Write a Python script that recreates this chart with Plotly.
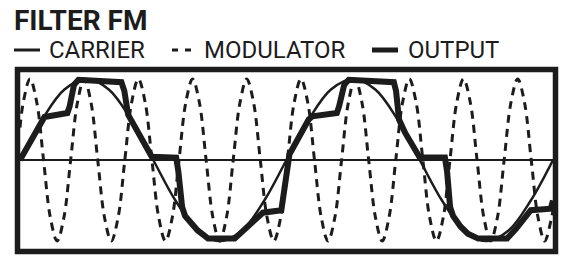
import plotly.graph_objects as go

# ---- data (x in carrier degrees, y normalised amplitude) ----
car_x = [0, 30, 60, 90, 120, 150, 180, 210, 240, 270, 300, 330, 360,
         390, 420, 450, 480, 510, 540, 570, 600, 630, 660, 690, 720]
car_y = [0, 0.5, 0.87, 1, 0.87, 0.5, 0, -0.5, -0.87, -1, -0.87, -0.5, 0,
         0.5, 0.87, 1, 0.87, 0.5, 0, -0.5, -0.87, -1, -0.87, -0.5, 0]

mod_x = [0, 4.4, 13.5, 22.7, 31.8, 41.0, 50.1, 59.3, 68.4, 77.6, 86.7, 95.9, 105.0,
         114.2, 123.3, 132.5, 141.6, 150.8, 159.9, 169.1, 178.2, 187.4, 196.5, 205.7,
         214.8, 224.0, 233.1, 242.3, 251.4, 260.6, 269.7, 278.9, 288.0, 297.2, 306.3,
         315.5, 324.6, 333.8, 342.9, 352.1, 361.2, 370.4, 379.5, 388.7, 397.8, 407.0,
         416.1, 425.3, 434.4, 443.6, 452.7, 461.9, 471.0, 480.2, 489.3, 498.5, 507.6,
         516.8, 525.9, 535.1, 544.2, 553.4, 562.5, 571.7, 580.8, 590.0, 599.1, 608.3,
         617.4, 626.6, 635.7, 644.9, 654.0, 663.2, 672.3, 681.5, 690.6, 699.8, 708.9,
         718.1, 720]
mod_y = [0.40, 0.71,
         1, 0.71, 0, -0.71, -1, -0.71, 0, 0.71,
         1, 0.71, 0, -0.71, -1, -0.71, 0, 0.71,
         1, 0.71, 0, -0.71, -1, -0.71, 0, 0.71,
         1, 0.71, 0, -0.71, -1, -0.71, 0, 0.71,
         1, 0.71, 0, -0.71, -1, -0.71, 0, 0.71,
         1, 0.71, 0, -0.71, -1, -0.71, 0, 0.71,
         1, 0.71, 0, -0.71, -1, -0.71, 0, 0.71,
         1, 0.71, 0, -0.71, -1, -0.71, 0, 0.71,
         1, 0.71, 0, -0.71, -1, -0.71, 0, 0.71,
         1, 0.71, 0, -0.71, -1, -0.71,
         -0.62]

out_x = [0, 10, 20, 28, 33, 64, 67, 73, 79, 137, 141, 146, 150, 160, 170, 178,
         211, 214, 219, 223, 230, 240, 250, 254, 290, 300, 315, 328, 353, 357,
         364, 370, 380, 390, 395, 428, 431, 438, 444, 505, 508, 512, 520, 530,
         540, 543, 574, 577, 581, 585, 595, 605, 615, 619, 658, 670, 690, 717, 720]
out_y = [0, 0.17, 0.34, 0.47, 0.53, 0.58, 0.66, 0.93, 0.99, 0.96, 0.85, 0.56, 0.5,
         0.34, 0.17, 0.04, 0.03, -0.15, -0.58, -0.69, -0.77, -0.87, -0.94, -0.97,
         -0.97, -0.88, -0.76, -0.65, -0.62, -0.35, 0.07, 0.17, 0.34, 0.5, 0.54,
         0.58, 0.66, 0.93, 0.99, 0.96, 0.85, 0.5, 0.34, 0.17, 0.03, 0.03, 0.03,
         -0.15, -0.58, -0.69, -0.82, -0.91, -0.96, -0.97, -0.97, -0.85, -0.62,
         -0.6, -0.5]

title_text = "FILTER FM"
legend_labels = ["CARRIER", "MODULATOR", "OUTPUT"]

INK = "#1c1c1c"
W, H = 566, 266
L, R, T, B = 20, 13, 72, 18
PW, PH = W - L - R, H - T - B


def px(x):
    return (x - L) / PW


def py(y):
    return (H - B - y) / PH


fig = go.Figure()
fig.add_trace(go.Scatter(x=car_x, y=car_y, mode="lines",
                         line=dict(color=INK, width=2.5, shape="spline", smoothing=1.0),
                         name=legend_labels[0]))
fig.add_trace(go.Scatter(x=mod_x, y=mod_y, mode="lines",
                         line=dict(color=INK, width=3, dash="8px,6px", shape="spline", smoothing=1.0),
                         name=legend_labels[1]))
fig.add_trace(go.Scatter(x=out_x, y=out_y, mode="lines",
                         line=dict(color=INK, width=6),
                         name=legend_labels[2]))

shapes = [
    # frame
    dict(type="rect", xref="paper", yref="paper",
         x0=px(17.5), x1=px(555.5), y0=py(251.5), y1=py(69.5),
         line=dict(color=INK, width=5.5), layer="above"),
    # legend samples
    dict(type="line", xref="paper", yref="paper", x0=px(14), x1=px(40), y0=py(50), y1=py(50),
         line=dict(color=INK, width=3)),
    dict(type="line", xref="paper", yref="paper", x0=px(172), x1=px(192), y0=py(50), y1=py(50),
         line=dict(color=INK, width=3, dash="6px,7px")),
    dict(type="line", xref="paper", yref="paper", x0=px(372), x1=px(398), y0=py(50), y1=py(50),
         line=dict(color=INK, width=5)),
]

annotations = [
    dict(text=title_text, xref="paper", yref="paper", x=px(12), y=py(20),
         xanchor="left", yanchor="middle", showarrow=False,
         font=dict(family="Roboto", size=28, color=INK, weight="bold")),
]
for lab, lx in zip(legend_labels, [47, 202, 406]):
    annotations.append(dict(text=lab, xref="paper", yref="paper", x=px(lx), y=py(50),
                            xanchor="left", yanchor="middle", showarrow=False,
                            font=dict(family="Roboto", size=24, color=INK)))

fig.update_layout(
    width=W, height=H, autosize=False,
    margin=dict(l=L, r=R, t=T, b=B, pad=0),
    paper_bgcolor="white", plot_bgcolor="white",
    showlegend=False,
    xaxis=dict(range=[0, 720], visible=False, showgrid=False, zeroline=False, fixedrange=True),
    yaxis=dict(range=[-1.086, 1.086], showgrid=False, showticklabels=False, ticks="",
               zeroline=True, zerolinecolor=INK, zerolinewidth=2, showline=False, fixedrange=True),
    shapes=shapes, annotations=annotations,
)

fig.write_html("out.html")
